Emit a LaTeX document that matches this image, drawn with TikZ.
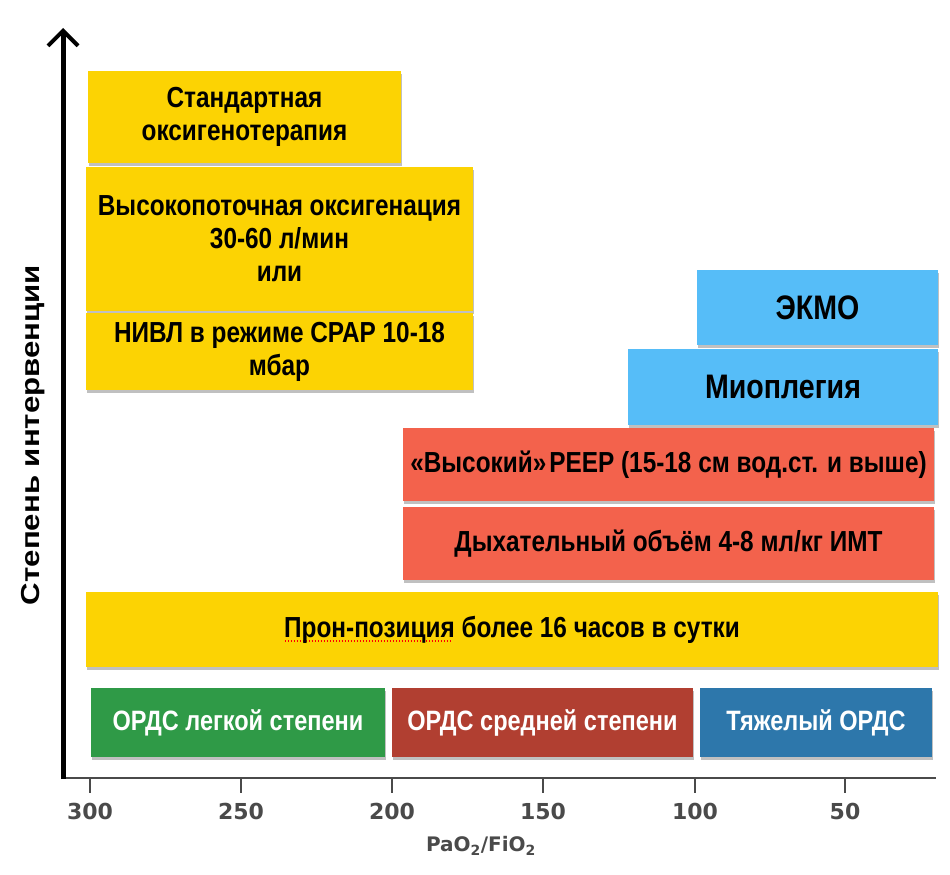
\documentclass[tikz,border=0pt]{standalone}
\usepackage{fontspec}
\setmainfont{Liberation Sans}
\newfontfamily\boxfont{Liberation Sans}[FakeStretch=0.84]
\newfontfamily\ylabfont{Liberation Sans}[FakeStretch=1.2]
\newfontfamily\tickfont{DejaVu Sans}
\usetikzlibrary{arrows.meta,shadows}
\definecolor{cyel}{HTML}{FCD303}
\definecolor{cred}{HTML}{F3624C}
\definecolor{cblue}{HTML}{56BDF8}
\definecolor{cgreen}{HTML}{2F9A47}
\definecolor{cdred}{HTML}{B13F31}
\definecolor{cdblue}{HTML}{2D77AB}
\definecolor{caxis}{HTML}{4A4A4A}
\newcommand\spellerr[1]{\setbox0\hbox{#1}\rlap{\textcolor{red}{\leaders\hbox to 3pt{\hss\rule[-4.5pt]{1.6pt}{1.3pt}\hss}\hskip\wd0}}\box0\relax}
\tikzset{
  boxbase/.style={rectangle, inner sep=2pt, align=center,
    font=\boxfont\bfseries\fontsize{29}{33}\selectfont,
    drop shadow={shadow xshift=0.5pt, shadow yshift=-2.5pt, opacity=0.35, fill=black!70}},
  ybox/.style={boxbase, fill=cyel, text=black},
  rbox/.style={boxbase, fill=cred, text=black},
  bbox/.style={boxbase, fill=cblue, text=black, font=\boxfont\bfseries\fontsize{34}{38}\selectfont},
  gbox/.style={boxbase, text=white, font=\boxfont\bfseries\fontsize{28}{32}\selectfont},
  ticklab/.style={font=\tickfont\bfseries\fontsize{22}{26}\selectfont, text=caxis},
  tickline/.style={line width=2.2pt, draw=caxis}
}
\begin{document}
\begin{tikzpicture}[x=1pt,y=-1pt]
\useasboundingbox[fill=white] (0,0) rectangle (950,875);
% boxes
\node[ybox, minimum width=313pt, minimum height=92pt] (std) at (244.5,117) {Стандартная\\оксигенотерапия};
\node[ybox, minimum width=387pt, minimum height=144pt] (hfo) at (279.5,239) {Высокопоточная оксигенация\\30-60 л/мин\\или};
\node[ybox, minimum width=387pt, minimum height=77pt] (nivl) at (279.5,351.5) {НИВЛ в режиме СРАР 10-18\\мбар};
\node[bbox, minimum width=241pt, minimum height=75pt] (ecmo) at (817.5,307.5) {ЭКМО};
\node[bbox, minimum width=310pt, minimum height=76pt] (myo) at (783,387) {Миоплегия};
\node[rbox, minimum width=531pt, minimum height=73pt] (peep) at (668.5,464.5) {«Высокий»\kern3pt\relax PEEP (15-18 см вод.ст. и выше)};
\node[rbox, minimum width=531pt, minimum height=73pt] (vt) at (668.5,543.5) {Дыхательный объём 4-8 мл/кг ИМТ};
\node[ybox, minimum width=852pt, minimum height=75pt] (prone) at (512,629.5) {\spellerr{Прон-позиция} более 16 часов в сутки};
\node[gbox, fill=cgreen, minimum width=294pt, minimum height=69pt] (mild) at (238,722.5) {ОРДС легкой степени};
\node[gbox, fill=cdred, minimum width=301pt, minimum height=69pt] (mod) at (542.5,722.5) {ОРДС средней степени};
\node[gbox, fill=cdblue, minimum width=232pt, minimum height=69pt] (sev) at (816,722.5) {Тяжелый ОРДС};
% axes
\coordinate (o) at (63,778);
\coordinate (ytop) at (63,28);
\coordinate (xend) at (936,778);
\draw[line width=2pt, draw=caxis] (o) -- (xend);
\draw[line width=5pt, -{Straight Barb[length=15pt,width=30pt,line width=4pt]}] ([yshift=-1pt]o) -- (ytop);
% ticks
\foreach \xv/\lab/\nm in {90/300/t300, 241/250/t250, 392/200/t200, 543/150/t150, 695/100/t100, 845/50/t50}{
  \coordinate (\nm a) at (\xv,779);
  \coordinate (\nm b) at (\xv,793);
  \draw[tickline] (\nm a) -- (\nm b);
  \node[ticklab] (\nm) at (\xv,811) {\lab};
}
\node[font=\tickfont\bfseries\fontsize{20}{24}\selectfont, text=caxis] (xlab) at (481,846) {PaO\textsubscript{2}/FiO\textsubscript{2}};
\node[rotate=90, font=\ylabfont\bfseries\fontsize{26}{30}\selectfont] (ylab) at (33,435) {Степень интервенции};
\end{tikzpicture}
\end{document}
